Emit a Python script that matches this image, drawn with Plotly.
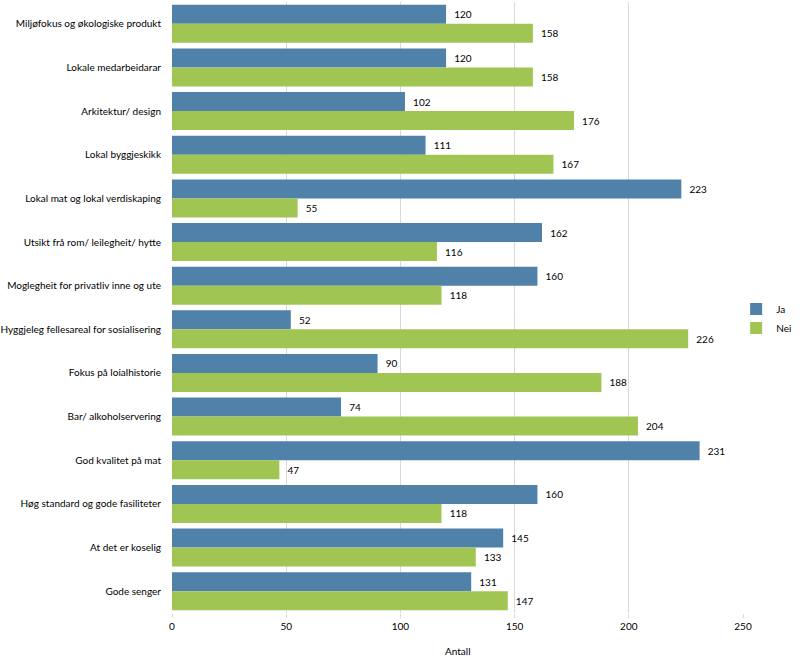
import plotly.graph_objects as go

categories = [
    "Miljøfokus og økologiske produkt",
    "Lokale medarbeidarar",
    "Arkitektur/ design",
    "Lokal byggjeskikk",
    "Lokal mat og lokal verdiskaping",
    "Utsikt frå rom/ leilegheit/ hytte",
    "Moglegheit for privatliv inne og ute",
    "Hyggjeleg fellesareal for sosialisering",
    "Fokus på loialhistorie",
    "Bar/ alkoholservering",
    "God kvalitet på mat",
    "Høg standard og gode fasiliteter",
    "At det er koselig",
    "Gode senger",
]
ja = [120, 120, 102, 111, 223, 162, 160, 52, 90, 74, 231, 160, 145, 131]
nei = [158, 158, 176, 167, 55, 116, 118, 226, 188, 204, 47, 118, 133, 147]
x_ticks = [0, 50, 100, 150, 200, 250]
x_title = "Antall"

FONT = "Lato, 'Open Sans', sans-serif"
PAD = "\u00a0\u00a0"

fig = go.Figure()
fig.add_trace(go.Bar(
    name="Ja", y=categories, x=ja, orientation="h",
    marker=dict(color="#4F81A9", line=dict(width=0)),
    texttemplate=PAD + "%{x}", textposition="outside", cliponaxis=False,
    textfont=dict(size=10, color="#000000", family=FONT),
))
fig.add_trace(go.Bar(
    name="Nei", y=categories, x=nei, orientation="h",
    marker=dict(color="#A0C552", line=dict(width=0)),
    texttemplate=PAD + "%{x}", textposition="outside", cliponaxis=False,
    textfont=dict(size=10, color="#000000", family=FONT),
))

fig.update_layout(
    width=800, height=660,
    barmode="group", bargap=0.13, bargroupgap=0,
    plot_bgcolor="white", paper_bgcolor="white",
    margin=dict(l=172, r=57, t=2, b=47, pad=0, autoexpand=False),
    font=dict(family=FONT, size=10, color="#000000"),
    legend=dict(x=0.988, y=0.482, xanchor="left", yanchor="middle",
                bgcolor="rgba(0,0,0,0)",
                font=dict(size=10), traceorder="normal",
                itemwidth=30),
    xaxis=dict(
        range=[0, 250], tickvals=x_ticks, showgrid=True,
        gridcolor="#D9D9D9", gridwidth=1, zeroline=False,
        showline=False, ticks="outside", ticklen=4, tickcolor="#D9D9D9",
        tickfont=dict(size=10), automargin=False,
    ),
    yaxis=dict(
        autorange="reversed", showgrid=False, zeroline=False,
        showline=False, ticks="outside", ticklen=8, tickcolor="rgba(0,0,0,0)",
        tickfont=dict(size=10), automargin=False,
    ),
    annotations=[dict(
        text=x_title, xref="paper", yref="paper", x=0.5, y=0,
        yshift=-38, xanchor="center", yanchor="middle", showarrow=False,
        font=dict(size=10, family=FONT),
    )],
)

fig.write_html("out.html",
               config={"displayModeBar": False},
               post_script="document.body.style.margin='0px';document.body.style.overflow='hidden';")
